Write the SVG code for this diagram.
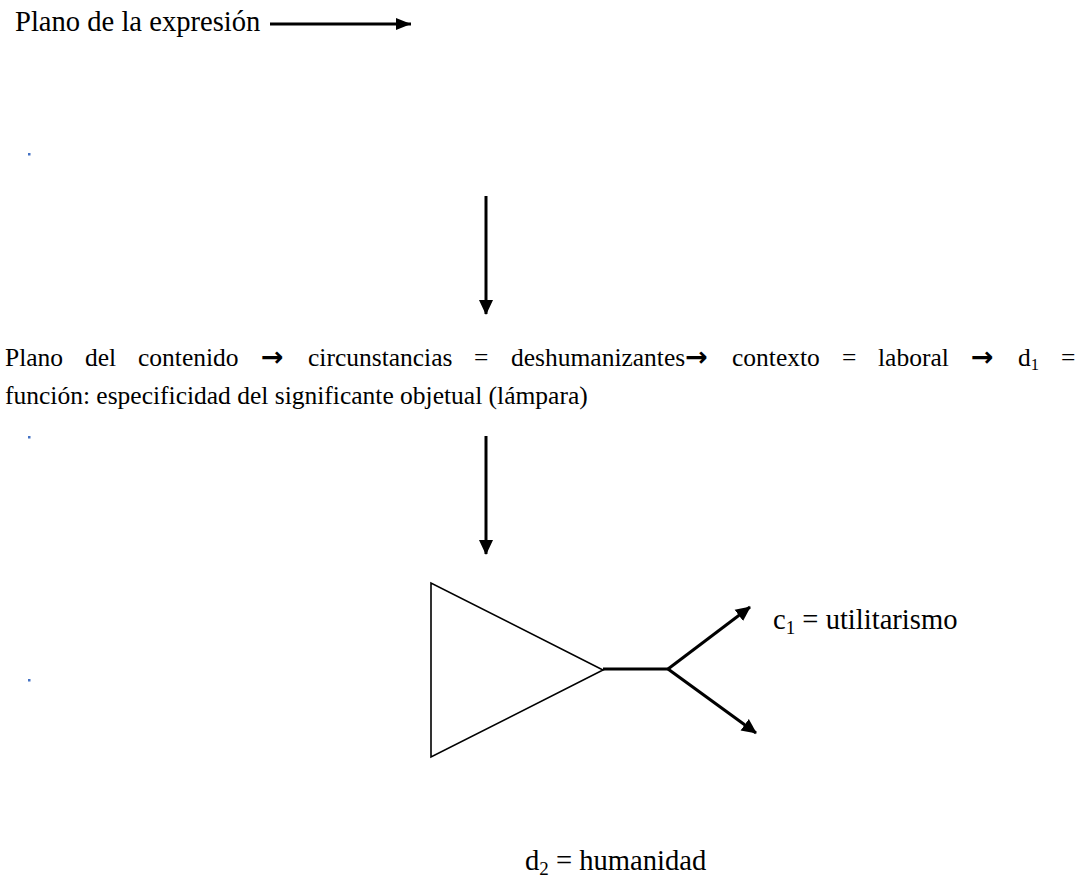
<svg xmlns="http://www.w3.org/2000/svg" width="1084" height="884" viewBox="0 0 1084 884">
<style>
.t{font-family:"Liberation Serif","Times New Roman",serif;fill:#000}
.p{font-size:25.5px}
.l{font-size:28.6px}
.ar{font-family:"DejaVu Sans",sans-serif;font-weight:bold;font-size:27px}
.c{stroke:#000;fill:none;stroke-width:3}
.dot{fill:#4472C4}
</style>
<defs>
<marker id="ah" markerUnits="userSpaceOnUse" markerWidth="16" markerHeight="16" viewBox="0 0 16 16" refX="14" refY="8" orient="auto">
<path d="M0,1 L15,8 L0,15 Z" fill="#000"/>
</marker>
<marker id="ahs" markerUnits="userSpaceOnUse" markerWidth="16" markerHeight="14" viewBox="0 0 16 14" refX="15" refY="7" orient="auto">
<path d="M0,1 L15,7 L0,13 Z" fill="#000"/>
</marker>
</defs>
<rect width="1084" height="884" fill="#fff"/>
<g id="expresion">
<text class="t l" x="15" y="31">Plano de la expresión</text>
</g>
<g id="contenido">
<text class="t p" y="366"><tspan x="5">Plano</tspan><tspan x="85">del</tspan><tspan x="138">contenido</tspan><tspan x="261" class="ar">→</tspan><tspan x="308">circunstancias</tspan><tspan x="474">=</tspan><tspan x="511">deshumanizantes</tspan><tspan class="ar">→</tspan><tspan x="732">contexto</tspan><tspan x="842">=</tspan><tspan x="878">laboral</tspan><tspan x="971" class="ar">→</tspan><tspan x="1018">d</tspan><tspan font-size="16.5" dy="4">1</tspan><tspan x="1061" dy="-4">=</tspan></text>
<text class="t p" x="5" y="404">función: especificidad del significante objetual (lámpara)</text>
</g>
<g id="triangulo">
<polygon points="431,583 431,757 603,670" fill="none" stroke="#000" stroke-width="1.6"/>
</g>
<g id="c1">
<text class="t l" x="773" y="629">c<tspan font-size="19" dy="5">1</tspan><tspan dy="-5"> = utilitarismo</tspan></text>
</g>
<g id="d2">
<text class="t l" x="525" y="870">d<tspan font-size="19" dy="5">2</tspan><tspan dy="-5"> = humanidad</tspan></text>
</g>
<g id="connectors">
<line class="c" x1="270" y1="24" x2="411" y2="24" stroke-width="2.5" marker-end="url(#ahs)"/>
<line class="c" x1="486" y1="196" x2="486" y2="314" stroke-width="2.5" marker-end="url(#ah)"/>
<line class="c" x1="486" y1="436" x2="486" y2="554" stroke-width="2.5" marker-end="url(#ah)"/>
<polyline class="c" points="603,669 668,669"/>
<line class="c" x1="668" y1="669" x2="750" y2="607" marker-end="url(#ah)"/>
<line class="c" x1="668" y1="669" x2="756" y2="733" marker-end="url(#ah)"/>
</g>
<g id="dots">
<rect class="dot" x="28" y="153" width="2.5" height="2.5"/>
<rect class="dot" x="28" y="436" width="2.5" height="2.5"/>
<rect class="dot" x="28" y="679" width="2.5" height="2.5"/>
</g>
</svg>
